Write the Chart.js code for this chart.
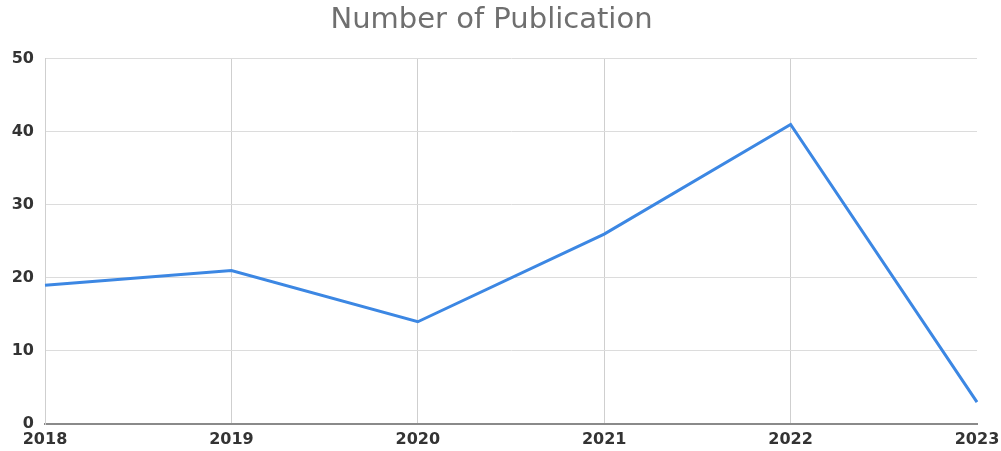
<!DOCTYPE html>
<html>
<head>
<meta charset="utf-8">
<script src="https://cdn.jsdelivr.net/npm/chart.js@4"></script>
<style>
  body { margin: 0; background: #fff; }
  #pub-chart { display: block; }
</style>
</head>
<body>
<canvas id="pub-chart" width="1001" height="451"></canvas>
<script>
// data
const years = ["2018", "2019", "2020", "2021", "2022", "2023"];
const publications = [19, 21, 14, 26, 41, 3];
const yTicks = [0, 10, 20, 30, 40, 50];

const tickFont = { family: "DejaVu Sans, sans-serif", size: 16, weight: "bold" };

const canvasElement = document.getElementById("pub-chart");
const config = {
  type: "line",
  data: {
    labels: years,
    datasets: [
      {
        label: "Number of Publication",
        data: publications,
        borderColor: "#3c87e3",
        borderWidth: 3,
        pointRadius: 0,
        tension: 0,
      },
    ],
  },
  options: {
    responsive: false,
    animation: false,
    // right padding nudges the title a bit left of canvas centre
    layout: { padding: { left: 0, right: 18, top: 0, bottom: 0 } },
    plugins: {
      legend: { display: false },
      tooltip: { enabled: false },
      title: {
        display: true,
        text: "Number of Publication",
        color: "#6f6f6f",
        font: { family: "DejaVu Sans, sans-serif", size: 29, weight: "normal", lineHeight: 1.2 },
        padding: { top: 3, bottom: 21 },
      },
    },
    scales: {
      x: {
        offset: false,
        grid: {
          color: (ctx) => (ctx.index === years.length - 1 ? "transparent" : "#cfcfcf"),
          drawTicks: false,
        },
        border: { color: "#8a8a8a", width: 2 },
        ticks: {
          color: "#333",
          padding: 6,
          maxRotation: 0,
          font: tickFont,
        },
        afterFit: (s) => {
          s.height = 27;
          s.paddingLeft = 0;
          s.paddingRight = 24;
        },
      },
      y: {
        min: 0,
        max: 50,
        afterBuildTicks: (s) => { s.ticks = yTicks.map((v) => ({ value: v })); },
        grid: { color: "#dcdcdc", drawTicks: false },
        border: { color: "#cfcfcf" },
        ticks: {
          color: "#333",
          padding: 11,
          font: tickFont,
        },
        afterFit: (s) => { s.width = 45; },
      },
    },
  },
};

const pubChart = new Chart(canvasElement, config);
</script>
</body>
</html>
